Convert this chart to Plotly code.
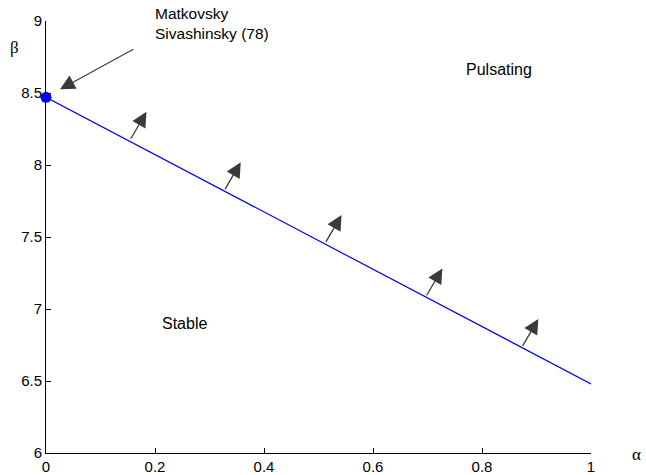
import plotly.graph_objects as go

# data
line_alpha = [0.0, 1.0]
line_beta = [8.47, 6.48]
point_alpha = [0.0]
point_beta = [8.47]
arrow_base_x = [0.154, 0.327, 0.512, 0.697, 0.873]
arrow_base_y = [8.172, 7.822, 7.456, 7.085, 6.734]
arrow_dx = 0.0303
arrow_dy = 0.197
x_ticks = [0, 0.2, 0.4, 0.6, 0.8, 1]
x_ticklabels = ["0", "0.2", "0.4", "0.6", "0.8", "1"]
y_ticks = [6, 6.5, 7, 7.5, 8, 8.5, 9]
y_ticklabels = ["6", "6.5", "7", "7.5", "8", "8.5", "9"]

font = "Liberation Sans, Arial, Helvetica, sans-serif"
serif = "Liberation Serif, Times New Roman, serif"
fig = go.Figure()
fig.add_trace(go.Scatter(x=line_alpha, y=line_beta, mode="lines",
                         line=dict(color="#0000ff", width=1.2), showlegend=False, hoverinfo="skip"))
fig.add_trace(go.Scatter(x=point_alpha, y=point_beta, mode="markers",
                         marker=dict(color="#0000ff", size=11), cliponaxis=False, showlegend=False))

anns = []
for bx, by in zip(arrow_base_x, arrow_base_y):
    anns.append(dict(x=bx + arrow_dx, y=by + arrow_dy, ax=bx, ay=by, xref="x", yref="y",
                     axref="x", ayref="y", showarrow=True, arrowhead=2, arrowsize=2.3,
                     arrowwidth=1.3, arrowcolor="#3a3a3a", text=""))
# literature arrow
anns.append(dict(x=0.0257, y=8.526, ax=0.163, ay=8.810, xref="x", yref="y", axref="x", ayref="y",
                 showarrow=True, arrowhead=2, arrowsize=2.7, arrowwidth=1.1, arrowcolor="#3a3a3a", text=""))
anns.append(dict(x=0.196, y=1.018, xref="paper", yref="paper", text="Matkovsky",
                 showarrow=False, xanchor="left", yanchor="middle", align="left",
                 font=dict(family=font, size=15.5, color="black")))
anns.append(dict(x=0.196, y=0.972, xref="paper", yref="paper", text="Sivashinsky (78)",
                 showarrow=False, xanchor="left", yanchor="middle", align="left",
                 font=dict(family=font, size=15.5, color="black")))
anns.append(dict(x=0.831, y=8.66, xref="x", yref="y", text="Pulsating", showarrow=False,
                 font=dict(family=font, size=16, color="black")))
anns.append(dict(x=0.255, y=6.896, xref="x", yref="y", text="Stable", showarrow=False,
                 font=dict(family=font, size=16, color="black")))
anns.append(dict(x=-0.07, y=0.965, xref="paper", yref="paper", text="β", showarrow=False,
                 font=dict(family=serif, size=17, color="black")))
anns.append(dict(x=1.095, y=-0.03, xref="paper", yref="paper", text="α", showarrow=False,
                 font=dict(family=serif, size=17, color="black")))

fig.update_layout(
    width=646, height=475, margin=dict(l=46, r=55, t=21, b=22),
    paper_bgcolor="white", plot_bgcolor="white",
    annotations=anns,
    font=dict(family=font, size=15, color="black"),
    xaxis=dict(range=[0, 1], tickvals=x_ticks, ticktext=x_ticklabels, showline=True,
               linecolor="black", linewidth=1, ticks="inside", ticklen=5, tickcolor="black",
               showgrid=False, zeroline=False, mirror=False, automargin=False),
    yaxis=dict(range=[6, 9], tickvals=y_ticks, ticktext=y_ticklabels, showline=True,
               linecolor="black", linewidth=1, ticks="inside", ticklen=5, tickcolor="black",
               showgrid=False, zeroline=False, mirror=False, automargin=False),
)
fig.write_html("out.html")
